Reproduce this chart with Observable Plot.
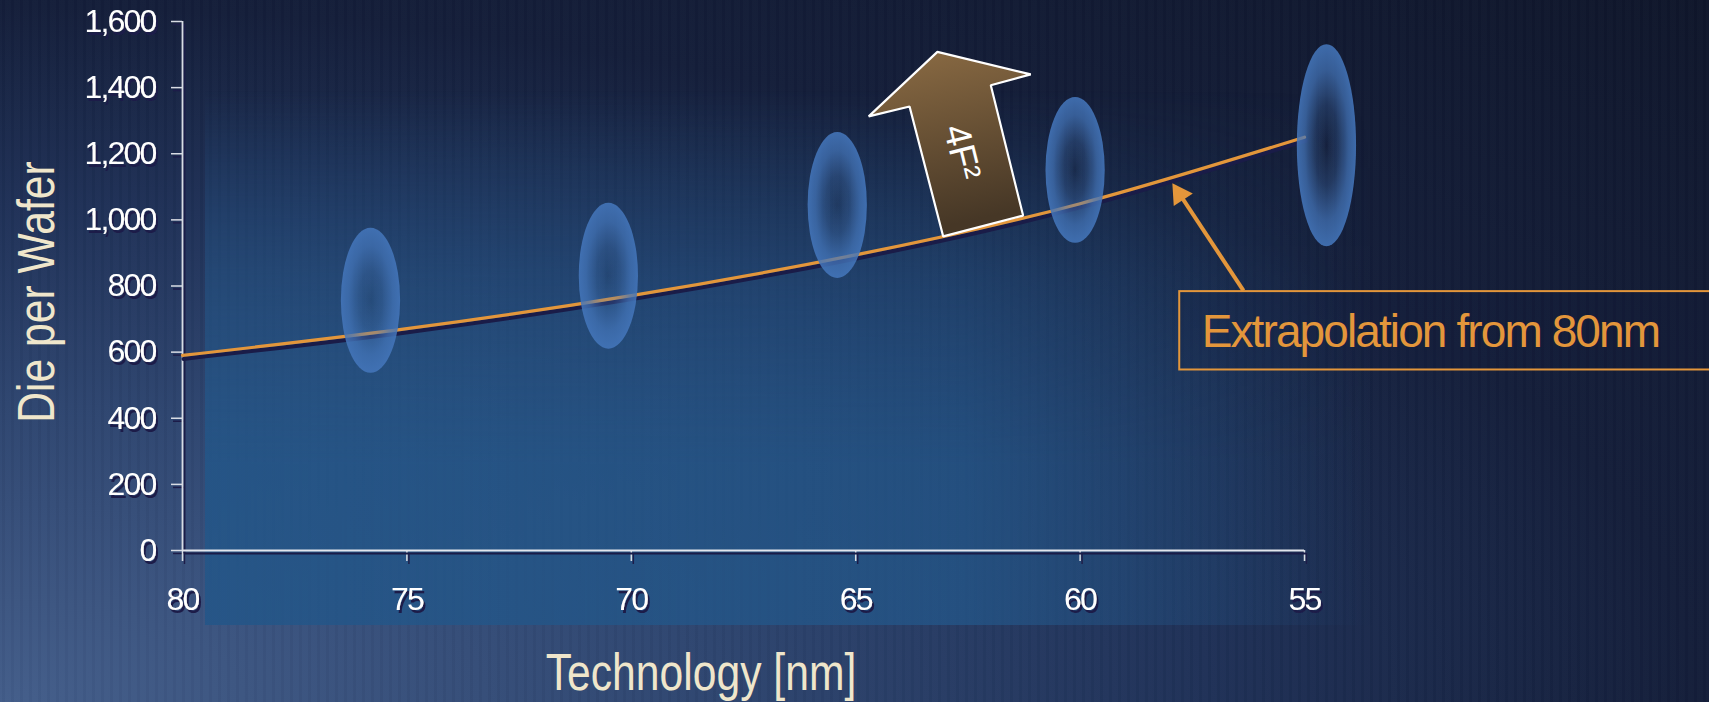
<!DOCTYPE html>
<html>
<head>
<meta charset="utf-8">
<script src="https://cdn.jsdelivr.net/npm/d3@7"></script>
<script src="https://cdn.jsdelivr.net/npm/@observablehq/plot@0.6"></script>
<style>
  html, body { margin: 0; padding: 0; overflow: hidden; }
  body { width: 1709px; height: 702px; position: relative;
    background:
      repeating-linear-gradient(90deg, rgba(255,255,255,0.012) 0 2px, rgba(0,0,0,0.025) 2px 5px, rgba(255,255,255,0.01) 5px 9px),
      radial-gradient(ellipse at 0% 100%, #435d8a 0%, #2e456f 30%, #1f3157 50%, #141e3a 70%, #0f162b 100%);
  }
  #panel { position: absolute; left: 205px; top: 90px; width: 1168px; height: 535px;
    background: linear-gradient(to right, rgba(36,86,136,0.88) 0%, rgba(36,86,136,0.78) 65%, rgba(36,86,136,0.0) 100%);
    -webkit-mask-image: linear-gradient(to bottom, rgba(0,0,0,0) 0%, rgba(0,0,0,0.6) 35%, rgba(0,0,0,1) 70%);
    mask-image: linear-gradient(to bottom, rgba(0,0,0,0) 0%, rgba(0,0,0,0.6) 35%, rgba(0,0,0,1) 70%);
  }
  #chart { position: absolute; left: 0; top: 0; }
  #chart svg { background: transparent; overflow: visible; }
  #chart g[aria-label^="x-axis"], #chart g[aria-label^="y-axis"] { filter: url(#sh); }
  #chart g[aria-label^="x-axis"] text, #chart g[aria-label^="y-axis"] text {
    font-family: "Liberation Sans", Arial, sans-serif; font-size: 32px; letter-spacing: -1.8px; fill: #ffffff;
  }
  #chart g[aria-label^="x-axis"] line, #chart g[aria-label^="y-axis"] line,
  #chart g[aria-label^="x-axis"] path, #chart g[aria-label^="y-axis"] path { stroke: #d8dce4; stroke-width: 1.5; }
  #chart g[aria-label="text"][font-size="46"] { letter-spacing: -1.9px; }
  .title { position: absolute; color: #efe6cb; font-family: "Liberation Sans", Arial, sans-serif;
    font-size: 52px; white-space: nowrap; line-height: 1; }
  #ytitle { left: 36px; top: 292px; transform: translate(-50%, -50%) rotate(-90deg) scaleX(0.82); }
  #xtitle { left: 701px; top: 646px; transform: translateX(-50%) scaleX(0.82); }
</style>
</head>
<body>
<div id="panel"></div>
<div id="chart"></div>
<div class="title" id="ytitle">Die per Wafer</div>
<div class="title" id="xtitle">Technology [nm]</div>
<script>
// ---- data ----
const techTicks = [80, 75, 70, 65, 60, 55];
const dieTicks = [0, 200, 400, 600, 800, 1000, 1200, 1400, 1600];

// extrapolation curve (from 80nm)
const extrapNm  = [80, 75, 70, 65, 60, 55];
const extrapDie = [590, 671, 771, 894, 1049, 1250];

// blue measurement ellipses: centre node and die-per-wafer range
const blobNm   = [75.8, 70.5, 65.4, 60.1, 54.5];
const blobLow  = [536, 609, 823, 929, 919];
const blobHigh = [975, 1050, 1264, 1370, 1530];

// "4F²" block arrow outline (nm, die per wafer)
const arrowNm  = [63.18, 61.10, 61.99, 61.27, 63.05, 63.80, 64.71];
const arrowDie = [1508, 1440, 1407, 1013, 950, 1343, 1313];
const arrowLabel = "4F²";
const arrowLabelNm = 62.64, arrowLabelDie = 1204;

// callout
const calloutText = "Extrapolation from 80nm";
const calloutFromNm = 56.36, calloutFromDie = 786;
const calloutToNm = 57.94, calloutToDie = 1110;
const calloutBoxNm = [57.78, 45.8], calloutBoxDie = [546, 783];
const calloutTextNm = 57.29, calloutTextDie = 659;

// ---- build tables ----
const curve = extrapNm.map((nm, i) => ({nm, die: extrapDie[i]}));
const blobs = blobNm.map((nm, i) => ({nm, lo: blobLow[i], hi: blobHigh[i]}));
const arrowPoly = arrowNm.map((nm, i) => ({nm, die: arrowDie[i]}));
// arrow head sits just behind the tip, along the callout direction
const headFrac = 0.1;
const head = {nm: calloutToNm + headFrac * (calloutFromNm - calloutToNm),
              die: calloutToDie + headFrac * (calloutFromDie - calloutToDie)};

const shadow = "#1a1c48";
const orange = "#e3963b";
const blobHalf = 0.66;

const defs = () => {
  const d = d3.create("svg:defs");
  const f = d.append("filter").attr("id", "sh").attr("filterUnits", "userSpaceOnUse")
    .attr("x", -3000).attr("y", -3000).attr("width", 8000).attr("height", 8000);
  f.append("feDropShadow").attr("dx", 2).attr("dy", 3).attr("stdDeviation", 0.4)
    .attr("flood-color", shadow).attr("flood-opacity", 1);
  const rg = d.append("radialGradient").attr("id", "blob");
  [[0, 0.06], [40, 0.3], [75, 0.72], [100, 0.88]].forEach(([o, a]) =>
    rg.append("stop").attr("offset", o + "%").attr("stop-color", "#4476bb").attr("stop-opacity", a));
  const lg = d.append("linearGradient").attr("id", "brown").attr("x1", 0).attr("y1", 0).attr("x2", 0.2).attr("y2", 1);
  lg.append("stop").attr("offset", "0%").attr("stop-color", "#8c6c44");
  lg.append("stop").attr("offset", "100%").attr("stop-color", "#463726");
  return d.node();
};

const chart = Plot.plot({
  width: 1709,
  height: 702,
  marginLeft: 182,
  marginRight: 405,
  marginTop: 21,
  marginBottom: 152,
  style: {background: "transparent", color: "#ffffff", fontFamily: "Liberation Sans, Arial, sans-serif", fontSize: "32px", overflow: "visible"},
  x: {domain: [80, 55], ticks: techTicks, tickSize: 11, tickPadding: 26, label: null, tickFormat: d => String(d)},
  y: {domain: [0, 1600], ticks: dieTicks, tickSize: 11, tickPadding: 16, label: null, tickFormat: d3.format(",")},
  marks: [
    defs,
    // axis lines with shadow
    Plot.ruleY([0], {stroke: shadow, strokeWidth: 2, dy: 3, dx: 2}),
    Plot.ruleX([80], {stroke: shadow, strokeWidth: 2, dx: 2, dy: 3}),
    Plot.ruleY([0], {stroke: "#e2e5ec", strokeWidth: 1.8}),
    Plot.ruleX([80], {stroke: "#d8dce4", strokeWidth: 1.8}),
    // extrapolation curve with shadow
    Plot.line(curve, {x: "nm", y: "die", stroke: shadow, strokeWidth: 4, curve: "natural", dy: 3.5, dx: 1}),
    Plot.line(curve, {x: "nm", y: "die", stroke: orange, strokeWidth: 3.2, curve: "natural"}),
    // blue ellipses
    Plot.rect(blobs, {x1: d => d.nm + blobHalf, x2: d => d.nm - blobHalf, y1: "lo", y2: "hi",
      rx: 40, ry: 400, fill: "url(#blob)"}),
    // 4F² block arrow
    Plot.line(arrowPoly, {x: "nm", y: "die", curve: "linear-closed", fill: "url(#brown)", stroke: "#ffffff", strokeWidth: 2.2, strokeLinejoin: "miter"}),
    Plot.text([arrowLabel], {x: () => arrowLabelNm, y: () => arrowLabelDie, text: d => d, rotate: 76,
      fill: "#ffffff", fontSize: 37, fontFamily: "Liberation Sans, Arial, sans-serif"}),
    // callout
    Plot.link([0], {x1: () => calloutFromNm, y1: () => calloutFromDie, x2: () => head.nm, y2: () => head.die,
      stroke: orange, strokeWidth: 4}),
    Plot.dot([head], {x: "nm", y: "die", symbol: "triangle", r: 8.5, rotate: -33.5, fill: orange, stroke: null}),
    Plot.rect([0], {x1: () => calloutBoxNm[0], x2: () => calloutBoxNm[1], y1: () => calloutBoxDie[0], y2: () => calloutBoxDie[1],
      fill: "rgba(20,30,60,0.15)", stroke: orange, strokeWidth: 2}),
    Plot.text([calloutText], {x: () => calloutTextNm, y: () => calloutTextDie, text: d => d, textAnchor: "start",
      fill: orange, fontSize: 46, fontFamily: "Liberation Sans, Arial, sans-serif"})
  ]
});
document.getElementById("chart").appendChild(chart);
</script>
</body>
</html>
